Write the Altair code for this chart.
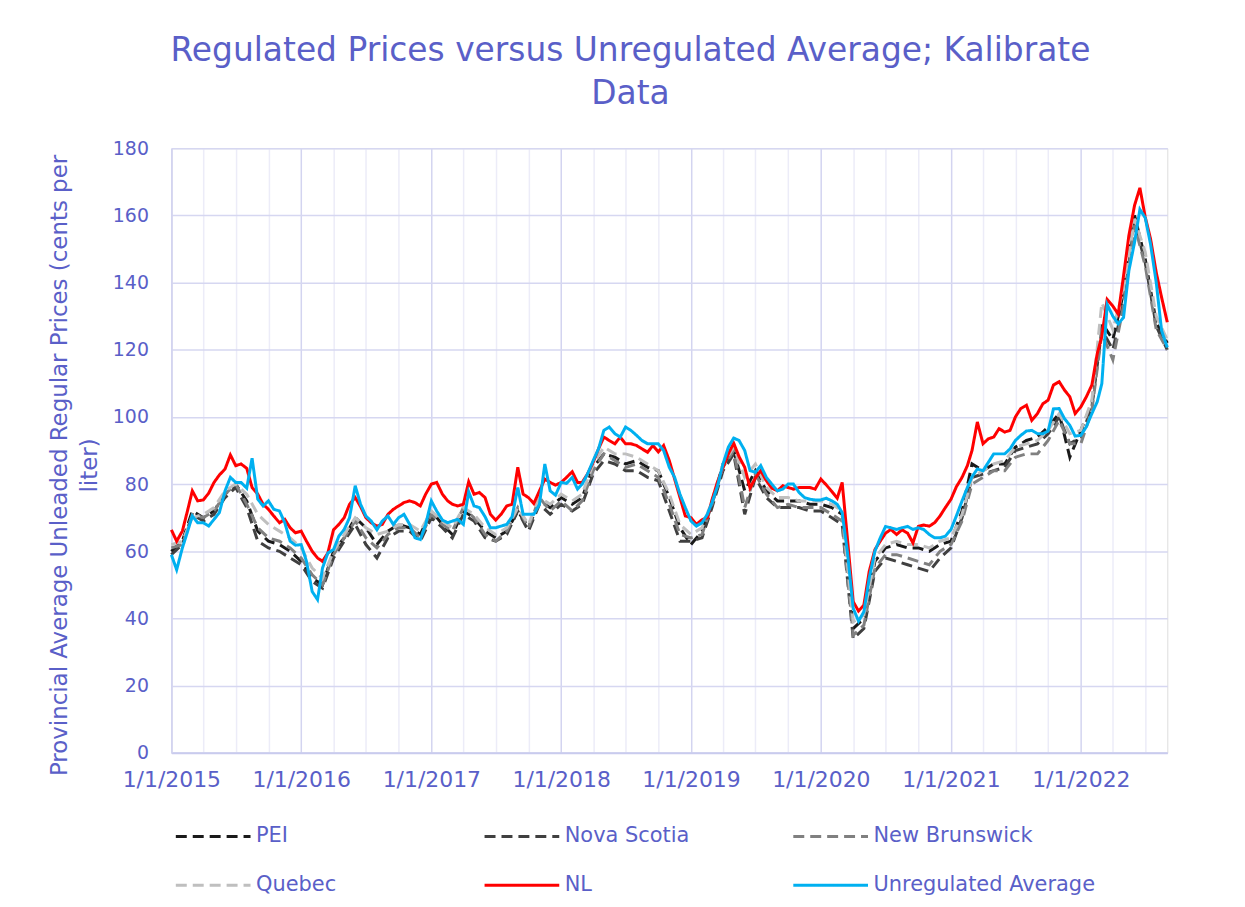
import altair as alt
import pandas as pd

FONT = "DejaVu Sans"
TXT = "#5a5fc8"

series_names = ["PEI", "Nova Scotia", "New Brunswick", "Quebec", "NL", "Unregulated Average"]
series_colors = ["#1a1a1a", "#404040", "#808080", "#bfbfbf", "#ff0000", "#00b0f0"]
series_dash = [[11, 6], [11, 6], [11, 6], [11, 6], [1, 0], [1, 0]]

year_ticks = list(range(2015, 2023))
y_ticks = list(range(0, 181, 20))

# monthly values (1st of each month, Jan 2015 .. Sep 2022)
pei = [60, 63, 72, 70, 72, 77, 80, 75, 66, 63, 62, 60,
       57, 52, 50, 60, 64, 70, 67, 62, 66, 68, 67, 65,
       72, 68, 65, 72, 70, 66, 64, 66, 72, 67, 75, 73,
       76, 74, 76, 85, 89, 88, 86, 87, 85, 84, 76, 67,
       62, 66, 74, 86, 90, 78, 84, 78, 75, 75, 75, 74,
       74, 73, 71, 37, 40, 57, 61, 62, 61, 61, 60, 62,
       63, 72, 86, 84, 86, 86, 91, 93, 94, 97, 101, 88,
       96, 104, 128, 123, 137, 160, 147, 128, 122]
nova_scotia = [59, 62, 71, 69, 71, 76, 79, 73, 63, 61, 60, 58,
               56, 51, 49, 58, 63, 68, 62, 58, 64, 66, 66, 63,
               70, 67, 64, 71, 69, 64, 63, 65, 72, 66, 74, 71,
               74, 72, 74, 83, 87, 86, 84, 84, 82, 81, 72, 63,
               63, 64, 73, 84, 89, 71, 82, 76, 73, 73, 73, 72,
               72, 70, 68, 34, 37, 54, 58, 57, 56, 55, 54, 58,
               61, 70, 82, 83, 84, 85, 90, 91, 92, 95, 100, 92,
               94, 103, 126, 120, 134, 158, 146, 127, 120]
new_brunswick = [61, 62, 71, 70, 72, 77, 80, 74, 67, 64, 63, 61,
                 58, 53, 50, 59, 64, 69, 64, 61, 65, 67, 67, 64,
                 71, 68, 66, 73, 70, 65, 63, 66, 73, 67, 76, 72,
                 75, 72, 75, 84, 89, 87, 85, 86, 84, 82, 74, 65,
                 64, 65, 74, 85, 90, 73, 83, 77, 73, 74, 73, 73,
                 73, 71, 69, 35, 38, 55, 59, 59, 58, 57, 56, 60,
                 62, 69, 80, 82, 84, 84, 88, 89, 89, 93, 99, 92,
                 92, 102, 125, 117, 133, 157, 145, 126, 120]
quebec = [62, 63, 70, 71, 73, 78, 80, 77, 71, 68, 66, 64,
          61, 55, 52, 60, 65, 70, 67, 65, 66, 68, 68, 66,
          72, 69, 67, 73, 71, 67, 65, 67, 73, 68, 76, 74,
          77, 75, 77, 86, 91, 89, 89, 88, 86, 84, 77, 68,
          65, 67, 75, 86, 91, 82, 86, 79, 76, 76, 75, 75,
          75, 74, 72, 39, 41, 58, 62, 63, 62, 62, 61, 63,
          64, 71, 82, 84, 86, 87, 91, 92, 93, 96, 101, 95,
          96, 105, 134, 126, 138, 159, 149, 130, 123]

# semi-monthly values (1st and 16th of each month, Jan 2015 .. Sep 1 2022)
nl = [66.4, 63, 66, 72.3, 78, 75, 75.3, 77.3, 80.5, 82.7, 84.5, 88.7, 85.5, 86, 84.7, 79, 77, 74, 72.5, 70.5, 68.5, 69.5, 67, 65.5,
      66, 63, 60, 58, 57, 59.5, 66.4, 68, 70, 74, 76, 73.3, 70, 68.5, 67.5, 68, 71, 72.5, 73.5, 74.5, 75, 74.5, 73.5, 77,
      80, 80.5, 77, 75, 74, 73.5, 74, 80.7, 77, 77.5, 76, 71, 69.3, 71, 73.5, 74, 85, 77, 76, 74.2, 78, 81.5, 80.5, 79.7,
      80.5, 82, 83.7, 80.5, 80.5, 83, 86.5, 90.5, 94, 93, 92, 94, 92, 92, 91.5, 90.5, 89.5, 91.5, 89.6, 91.5, 87, 81.5, 76, 70.5,
      70, 68, 69.4, 70, 75.3, 80.5, 85, 89, 92.2, 88.2, 85, 78.8, 81.8, 84, 81, 78.8, 78, 79.5, 79, 78.5, 79, 79, 79, 78.5,
      81.5, 79.8, 77.8, 75.8, 80.5, 63.5, 45, 42.2, 44, 54, 60.5, 63, 65.4, 66.5, 65, 66.4, 65.4, 62.5, 67.4, 67.8, 67.5, 68.5, 70.5, 73,
      75.5, 79.2, 82, 85.5, 90, 98.5, 92, 93.5, 94, 96.5, 95.5, 96, 100, 102.5, 103.5, 99, 101, 103.9, 105, 109.5, 110.5, 108, 106, 101,
      103, 105.9, 109.5, 118.8, 124, 135, 133, 130.6, 142, 154, 163, 168.2, 159.5, 153, 143, 135.6, 128.2]
unregulated_avg = [59, 54.5, 61, 66, 70.5, 68.5, 68.5, 67.5, 69.5, 71.5, 78, 82, 80.5, 80.5, 78.8, 87.7, 75.5, 73.5, 75, 72.5, 72, 68.5, 63, 61.8,
                   62, 57, 48, 45.6, 55, 59.5, 60.5, 64.5, 66.5, 70, 79.5, 74, 70.5, 69, 66.4, 69, 70.5, 68, 70, 71, 68, 64, 63.5, 68,
                   75, 72, 69.3, 68.5, 69, 69.5, 68, 77.7, 73.5, 73, 70.3, 67, 67, 67.5, 68, 70.3, 79, 71, 71, 71, 74, 86, 78, 76.7,
                   80.5, 80.2, 82, 78.5, 80, 83, 87, 90.5, 96, 97, 95, 94, 97, 96, 94.5, 93, 92, 92, 92, 90, 85, 82, 77, 73,
                   69, 67.5, 68.5, 71, 74.5, 79.3, 86, 91, 93.7, 93, 90, 84, 83.5, 85.5, 82, 80, 78, 78.5, 80, 80, 77.5, 76, 75.5, 75.3,
                   75.3, 75.8, 75, 74, 71.5, 59.5, 43, 39.2, 42, 52, 60, 64, 67.4, 67, 66.5, 67, 67.4, 66.5, 67, 66.5, 65, 64, 64, 64.5,
                   66.5, 70.5, 75, 79, 82.2, 84.5, 84, 86.5, 89, 89, 89, 90.5, 93, 94.5, 95.8, 96, 95, 95, 95.8, 102.4, 102.5, 99.5, 97.5, 94.3,
                   94.5, 97, 101, 104.5, 109.9, 133.5, 130, 127.7, 129.6, 143.5, 152, 161.8, 159.3, 151.4, 140, 125.7, 120.7]


def monthly_dates(n):
    return [f"{2015 + i // 12}-{i % 12 + 1:02d}-01T00:00:00" for i in range(n)]


def semimonthly_dates(n):
    out = []
    for i in range(n):
        m = i // 2
        d = 1 if i % 2 == 0 else 16
        out.append(f"{2015 + m // 12}-{m % 12 + 1:02d}-{d:02d}T00:00:00")
    return out


rows = []
for name, vals in [("PEI", pei), ("Nova Scotia", nova_scotia), ("New Brunswick", new_brunswick), ("Quebec", quebec)]:
    for d, v in zip(monthly_dates(len(vals)), vals):
        rows.append({"date": d, "value": v, "series": name})
for name, vals in [("NL", nl), ("Unregulated Average", unregulated_avg)]:
    for d, v in zip(semimonthly_dates(len(vals)), vals):
        rows.append({"date": d, "value": v, "series": name})
df = pd.DataFrame(rows)

quarter_values = [alt.DateTime(year=y, month=m, date=1) for y in year_ticks for m in (1, 4, 7, 10)
                  if not (y == 2022 and m == 10)]

legend = alt.Legend(
    orient="none", legendX=3, legendY=652, direction="horizontal", columns=3,
    gridAlign="all", symbolType="stroke", symbolSize=5625, symbolStrokeWidth=3,
    labelFont=FONT, labelFontSize=21, labelColor=TXT, labelOffset=4, labelLimit=400,
    columnPadding=0, rowPadding=-37, title=None,
)

x_enc = alt.X(
    "date:T",
    scale=alt.Scale(domain=[alt.DateTime(year=2015, month=1, date=1), alt.DateTime(year=2022, month=9, date=1)]),
    axis=alt.Axis(
        values=quarter_values, title=None, ticks=False, tickSize=0,
        labelExpr="month(datum.value) == 0 ? timeFormat(datum.value, '%-m/%-d/%Y') : ''",
        labelOverlap=False, labelFlush=False, labelFont=FONT, labelFontSize=22, labelColor=TXT, labelPadding=17,
        grid=True,
        gridColor={"condition": {"test": "month(datum.value) === 0", "value": "#d3d4f0"}, "value": "#ececf8"},
        gridWidth=1.5, domainColor="#c9cbee", domainWidth=2,
    ),
)
y_enc = alt.Y(
    "value:Q",
    scale=alt.Scale(domain=[0, 180]),
    axis=alt.Axis(
        values=y_ticks, ticks=False, tickSize=0,
        labelFont=FONT, labelFontSize=19, labelColor=TXT, labelPadding=23,
        grid=True, gridColor="#d6d7f1", gridWidth=1.5, domainColor="#d3d4f0", domainWidth=1.5,
        title=["Provincial Average Unleaded Regular Prices (cents per", "liter)"],
        titleFont=FONT, titleFontSize=23, titleColor=TXT, titleFontWeight="normal",
        titleLineHeight=30, titleX=-100, titleY=318, titleAngle=270, titleBaseline="bottom", titleAlign="center",
    ),
)
color_enc = alt.Color("series:N", scale=alt.Scale(domain=series_names, range=series_colors), legend=legend)
dash_enc = alt.StrokeDash("series:N", scale=alt.Scale(domain=series_names, range=series_dash), legend=legend)

layers = []
for name in series_names:
    layers.append(
        alt.Chart(df)
        .transform_filter(alt.datum.series == name)
        .mark_line(strokeWidth=3)
        .encode(x=x_enc, y=y_enc, color=color_enc, strokeDash=dash_enc)
    )

chart = (
    alt.layer(*layers)
    .properties(
        width=1000, height=607,
        autosize=alt.AutoSizeParams(type="none"),
        padding={"left": 164, "top": 139, "right": 70, "bottom": 150},
        title=alt.TitleParams(
            text=["Regulated Prices versus Unregulated Average; Kalibrate", "Data"],
            font=FONT, fontSize=33, fontWeight="normal", color=TXT,
            anchor="middle", dx=-39, offset=28, lineHeight=44,
        ),
    )
    .configure_view(stroke=None)
    .configure(background="white")
)

chart.save("out.html", embed_options={"renderer": "svg", "actions": False})
